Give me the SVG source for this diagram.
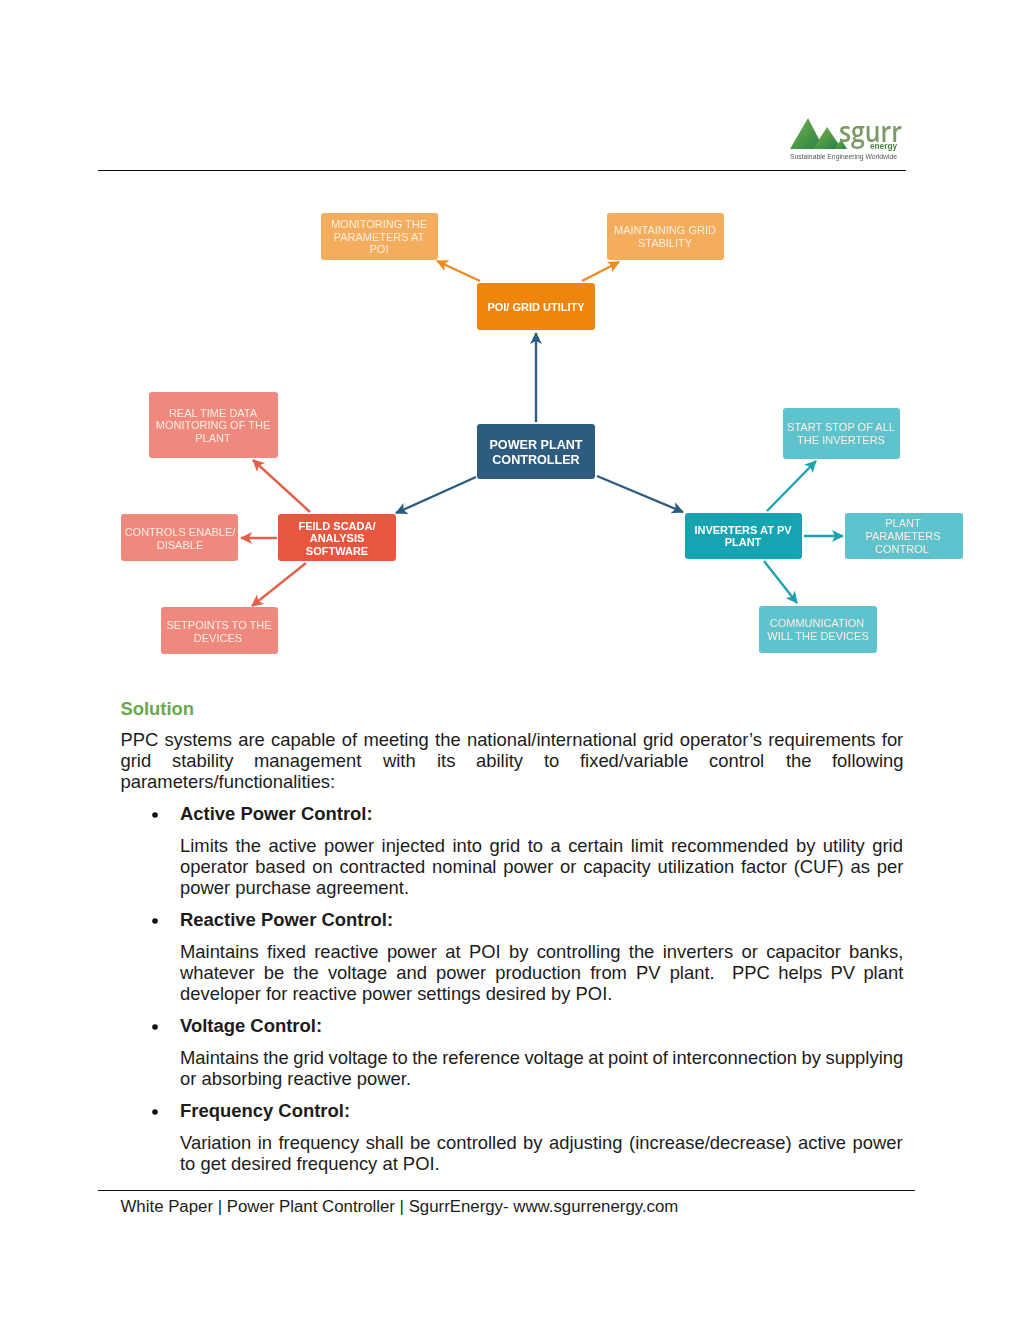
<svg xmlns="http://www.w3.org/2000/svg" width="1024" height="1325" viewBox="0 0 1024 1325">
<style>
text{font-family:"Liberation Sans",Arial,sans-serif}
.b{font-size:18.4px;fill:#1c1c1c}
.h{font-size:18.45px;font-weight:bold;fill:#1c1c1c}
.n{font-size:11px;text-anchor:middle;fill:#fdeee2}
.m{font-size:11px;font-weight:bold;text-anchor:middle;fill:#fff}
.c line{stroke-width:2.4;fill:none}
.rule{stroke:#111;stroke-width:1.2}
</style>
<defs>
<filter id="soft" x="-2%" y="-2%" width="104%" height="104%"><feGaussianBlur stdDeviation="0.35"/></filter>
<marker id="ao" markerUnits="userSpaceOnUse" markerWidth="14" markerHeight="14" refX="11" refY="6" orient="auto"><path d="M0 0L12 6L0 12L3 6Z" fill="#ed8b1f"/></marker>
<marker id="an" markerUnits="userSpaceOnUse" markerWidth="14" markerHeight="14" refX="11" refY="6" orient="auto"><path d="M0 0L12 6L0 12L3 6Z" fill="#2e5b7f"/></marker>
<marker id="ar" markerUnits="userSpaceOnUse" markerWidth="14" markerHeight="14" refX="11" refY="6" orient="auto"><path d="M0 0L12 6L0 12L3 6Z" fill="#e4604c"/></marker>
<marker id="at" markerUnits="userSpaceOnUse" markerWidth="14" markerHeight="14" refX="11" refY="6" orient="auto"><path d="M0 0L12 6L0 12L3 6Z" fill="#1da3b1"/></marker>
<linearGradient id="g1" x1="0" y1="0" x2="1" y2="1"><stop offset="0" stop-color="#7fb24a"/><stop offset="1" stop-color="#1f7f45"/></linearGradient>
</defs>

<g id="logo" filter="url(#soft)">
<path d="M808 118L790 149H824Z" fill="url(#g1)"/>
<path d="M827 127L813 149H842Z" fill="url(#g1)"/>
<path d="M841 139L835 149H847Z" fill="url(#g1)"/>
<text x="839" y="142" font-size="29" font-weight="600" textLength="63" lengthAdjust="spacingAndGlyphs" style="font-family:'Open Sans',sans-serif" fill="#7c9a66">sgurr</text>
<text x="870" y="149" font-size="9.500" font-weight="bold" textLength="27" lengthAdjust="spacingAndGlyphs" fill="#4c8440">energy</text>
<text x="790" y="159" font-size="7.5" textLength="107" lengthAdjust="spacingAndGlyphs" fill="#555">Sustainable Engineering Worldwide</text>
</g>
<line class="rule" x1="98" y1="170.5" x2="906" y2="170.5"/>

<g id="connectors" class="c" filter="url(#soft)">
<line x1="536" y1="422" x2="536" y2="333" stroke="#2e5b7f" marker-end="url(#an)"/>
<line x1="476" y1="477" x2="396" y2="513" stroke="#2e5b7f" marker-end="url(#an)"/>
<line x1="597" y1="476" x2="683" y2="512" stroke="#2e5b7f" marker-end="url(#an)"/>
<line x1="480" y1="281" x2="437" y2="261" stroke="#ed8b1f" marker-end="url(#ao)"/>
<line x1="582" y1="281" x2="619" y2="262" stroke="#ed8b1f" marker-end="url(#ao)"/>
<line x1="310" y1="512" x2="253" y2="460" stroke="#e4604c" marker-end="url(#ar)"/>
<line x1="277" y1="538" x2="241" y2="538" stroke="#e4604c" marker-end="url(#ar)"/>
<line x1="306" y1="563" x2="252" y2="606" stroke="#e4604c" marker-end="url(#ar)"/>
<line x1="767" y1="511" x2="816" y2="461" stroke="#1da3b1" marker-end="url(#at)"/>
<line x1="804" y1="536" x2="843" y2="536" stroke="#1da3b1" marker-end="url(#at)"/>
<line x1="764" y1="561" x2="797" y2="603" stroke="#1da3b1" marker-end="url(#at)"/>
</g>

<g id="nodes" filter="url(#soft)">
<g id="n-ppc"><rect x="477" y="424" width="118" height="55" rx="3" fill="#2e5b7f"/><text class="m" style="font-size:12.6px" x="536" y="449">POWER PLANT</text><text class="m" style="font-size:12.6px" x="536" y="464">CONTROLLER</text></g>
<g id="n-poi"><rect x="477" y="283" width="118" height="47" rx="3" fill="#f08507"/><text class="m" x="536" y="311">POI/ GRID UTILITY</text></g>
<g id="n-mon"><rect x="321" y="213" width="117" height="47" rx="3" fill="#f3ad5c"/><text class="n" x="379" y="228">MONITORING THE</text><text class="n" x="379" y="241">PARAMETERS AT</text><text class="n" x="379" y="253">POI</text></g>
<g id="n-grid"><rect x="607" y="213" width="117" height="47" rx="3" fill="#f3ad5c"/><text class="n" x="665" y="234">MAINTAINING GRID</text><text class="n" x="665" y="247">STABILITY</text></g>
<g id="n-scada"><rect x="278" y="514" width="118" height="47" rx="3" fill="#e8563f"/><text class="m" x="337" y="530">FEILD SCADA/</text><text class="m" x="337" y="542">ANALYSIS</text><text class="m" x="337" y="555">SOFTWARE</text></g>
<g id="n-real"><rect x="149" y="392" width="129" height="66" rx="3" fill="#f0897d"/><text class="n" x="213" y="417">REAL TIME DATA</text><text class="n" x="213" y="429">MONITORING OF THE</text><text class="n" x="213" y="442">PLANT</text></g>
<g id="n-ctrl"><rect x="121" y="514" width="117" height="47" rx="3" fill="#f0897d"/><text class="n" x="180" y="536">CONTROLS ENABLE/</text><text class="n" x="180" y="549">DISABLE</text></g>
<g id="n-set"><rect x="161" y="607" width="117" height="47" rx="3" fill="#f0897d"/><text class="n" x="219" y="629">SETPOINTS TO THE</text><text class="n" x="218" y="642">DEVICES</text></g>
<g id="n-inv"><rect x="685" y="513" width="117" height="46" rx="3" fill="#14a4b3"/><text class="m" x="743" y="534">INVERTERS AT PV</text><text class="m" x="743" y="546">PLANT</text></g>
<g id="n-start"><rect x="783" y="408" width="117" height="51" rx="3" fill="#5fc3cd"/><text class="n" x="841" y="431">START STOP OF ALL</text><text class="n" x="841" y="444">THE INVERTERS</text></g>
<g id="n-param"><rect x="845" y="513" width="118" height="46" rx="3" fill="#5fc3cd"/><text class="n" x="903" y="527">PLANT</text><text class="n" x="903" y="540">PARAMETERS</text><text class="n" x="902" y="553">CONTROL</text></g>
<g id="n-comm"><rect x="759" y="606" width="118" height="47" rx="3" fill="#5fc3cd"/><text class="n" x="817" y="627">COMMUNICATION</text><text class="n" x="818" y="640">WILL THE DEVICES</text></g>
</g>

<g id="body">
<text x="120.500" y="714.500" style="font-size:18.4px;font-weight:bold;fill:#6aa84f">Solution</text>
<text class="b" x="120.500" y="745.500" word-spacing="1.15">PPC systems are capable of meeting the national/international grid operator’s requirements for</text>
<text class="b" y="767"><tspan x="120.500">grid</tspan><tspan x="172">stability</tspan><tspan x="254">management</tspan><tspan x="383">with</tspan><tspan x="437">its</tspan><tspan x="476">ability</tspan><tspan x="544">to</tspan><tspan x="580">fixed/variable</tspan><tspan x="709">control</tspan><tspan x="786">the</tspan><tspan x="832">following</tspan></text>
<text class="b" x="120.500" y="788">parameters/functionalities:</text>
<circle cx="155" cy="815" r="2.8" fill="#111"/>
<text class="h" x="180" y="820">Active Power Control:</text>
<text class="b" x="180" y="851.500" word-spacing="2.35">Limits the active power injected into grid to a certain limit recommended by utility grid</text>
<text class="b" x="180" y="873" word-spacing="1.67">operator based on contracted nominal power or capacity utilization factor (CUF) as per</text>
<text class="b" x="180" y="894">power purchase agreement.</text>
<circle cx="155" cy="921" r="2.8" fill="#111"/>
<text class="h" x="180" y="926">Reactive Power Control:</text>
<text class="b" x="180" y="958" word-spacing="3.2">Maintains fixed reactive power at POI by controlling the inverters or capacitor banks,</text>
<text class="b" y="979"><tspan x="180" word-spacing="3.97">whatever be the voltage and power production from PV plant.</tspan><tspan x="732" word-spacing="3.25">PPC helps PV plant</tspan></text>
<text class="b" x="180" y="1000">developer for reactive power settings desired by POI.</text>
<circle cx="155" cy="1027" r="2.8" fill="#111"/>
<text class="h" x="180" y="1032">Voltage Control:</text>
<text class="b" x="180" y="1064" word-spacing="-0.6">Maintains the grid voltage to the reference voltage at point of interconnection by supplying</text>
<text class="b" x="180" y="1085">or absorbing reactive power.</text>
<circle cx="155" cy="1112" r="2.8" fill="#111"/>
<text class="h" x="180" y="1117">Frequency Control:</text>
<text class="b" x="180" y="1149" word-spacing="1.35">Variation in frequency shall be controlled by adjusting (increase/decrease) active power</text>
<text class="b" x="180" y="1170">to get desired frequency at POI.</text>
</g>
<line class="rule" x1="98" y1="1190.500" x2="915" y2="1190.500"/>
<text id="footer" x="120.500" y="1211.500" style="font-size:16.82px;fill:#1c1c1c">White Paper | Power Plant Controller | SgurrEnergy- www.sgurrenergy.com</text>
</svg>
